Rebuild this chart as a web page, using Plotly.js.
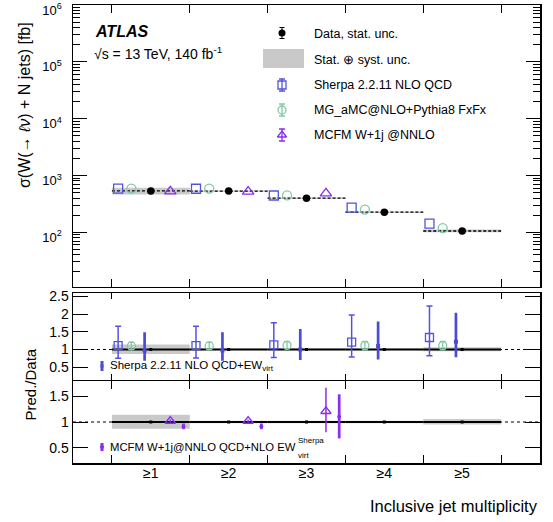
<!DOCTYPE html>
<html><head><meta charset="utf-8">
<script src="https://cdn.plot.ly/plotly-3.0.1.min.js"></script>
<style>html,body{margin:0;padding:0;background:#fff}</style>
</head><body>
<div id="plot" style="width:553px;height:522px"></div>
<script>
// ---- data ----
const categories = ['≥1','≥2','≥3','≥4','≥5'];
const dataXS   = [533, 530, 398, 225, 105];          // fb
const bandLo   = [0.87, 0.975, 0.975, 0.975, 0.95];  // stat+syst band, relative
const bandHi   = [1.14, 1.025, 1.025, 1.025, 1.06];
const sherpaXS = [585, 583, 443, 272, 142];
const mgXS     = [588, 586, 445, 250, 118];
const mcfmXS   = [525, 520, 485];
const sherpaR   = [1.11, 1.11, 1.13, 1.21, 1.34];
const sherpaRLo = [0.75, 0.76, 0.77, 0.79, 0.82];
const sherpaRHi = [1.66, 1.66, 1.76, 1.98, 2.23];
const mgR   = [1.10, 1.10, 1.12, 1.11, 1.11];
const mgRLo = [1.00, 1.00, 1.02, 0.99, 0.99];
const mgRHi = [1.20, 1.20, 1.22, 1.23, 1.23];
const ewR   = [0.97, 0.97, 1.00, 1.10, 1.22];
const ewRLo = [0.68, 0.68, 0.70, 0.72, 0.78];
const ewRHi = [1.49, 1.49, 1.58, 1.79, 2.04];
const mcfmR   = [1.02, 1.02, 1.21];
const mcfmRLo = [0.99, 0.99, 0.80];
const mcfmRHi = [1.05, 1.05, 1.67];
const mcfmEwR   = [0.91, 0.91, 1.10];
const mcfmEwRLo = [0.86, 0.86, 0.68];
const mcfmEwRHi = [0.97, 0.97, 1.54];
const yTickVals = [1e2, 1e3, 1e4, 1e5, 1e6];
const yTickText = ['10<sup>2</sup>','10<sup>3</sup>','10<sup>4</sup>','10<sup>5</sup>','10<sup>6</sup>'];

// ---- style ----
const BLUE = '#5353e0', BLUE2 = '#4b4bd6', GREEN = '#7fcba3', PURPLE = '#8a2cf2', GREY = '#c9c9c9';
const OFF = {sherpa:-0.42, mg:-0.25, ew:-0.08, mcfm:0.25, mcfmEw:0.42};
const FONT = 'Liberation Sans, Arial, sans-serif';

const xc = categories.map((_, i) => i + 1);
const shift = (arr, d) => arr.map(v => v + d);
const sub = (a, b) => a.map((v, i) => v - b[i]);
const W = 553, H = 522, L = 73, R = 13, T = 5, B = 59;
const px = x => (x - L) / (W - L - R);
const py = y => (H - B - y) / (H - T - B);
const boundaries = xc.map(v => v - 0.5).concat([xc.length + 0.5]);

// data dashed segments
const segX = [], segY = [];
xc.forEach((c, i) => { segX.push(c - 0.5, c + 0.5, null); segY.push(dataXS[i], dataXS[i], null); });

const traces = [];
// top panel
traces.push({type:'bar', x:xc, base:dataXS.map((d,i)=>d*bandLo[i]), y:dataXS.map((d,i)=>d*(bandHi[i]-bandLo[i])),
  width:1, marker:{color:GREY, line:{width:0}}, xaxis:'x3', yaxis:'y3', hoverinfo:'skip'});
traces.push({type:'scatter', mode:'lines', x:segX, y:segY, line:{color:'#000', width:1.3, dash:'3px,2px'},
  xaxis:'x3', yaxis:'y3', hoverinfo:'skip'});
traces.push({type:'scatter', mode:'markers', x:shift(xc,OFF.sherpa), y:sherpaXS,
  marker:{symbol:'square-open', size:9, color:BLUE, line:{width:1.3, color:BLUE}}, xaxis:'x3', yaxis:'y3'});
traces.push({type:'scatter', mode:'markers', x:shift(xc,OFF.mg), y:mgXS,
  marker:{symbol:'circle-open', size:9, color:GREEN, line:{width:1.3, color:GREEN}}, xaxis:'x3', yaxis:'y3'});
traces.push({type:'scatter', mode:'markers', x:xc, y:dataXS,
  marker:{symbol:'circle', size:7.5, color:'#000'}, xaxis:'x3', yaxis:'y3'});
traces.push({type:'scatter', mode:'markers', x:shift(xc.slice(0,3),OFF.mcfm), y:mcfmXS,
  marker:{symbol:'triangle-up-open', size:10, color:PURPLE, line:{width:1.3, color:PURPLE}}, xaxis:'x3', yaxis:'y3'});

// ratio panels
function ratioBase(xa, ya) {
  traces.push({type:'bar', x:xc, base:bandLo, y:sub(bandHi, bandLo), width:1,
    marker:{color:GREY, line:{width:0}}, xaxis:xa, yaxis:ya, hoverinfo:'skip'});
  traces.push({type:'scatter', mode:'markers', x:xc, y:xc.map(()=>1),
    error_x:{type:'constant', value:0.5, width:0, thickness:2, color:'#000'},
    marker:{symbol:'square', size:3, color:'#000'}, xaxis:xa, yaxis:ya});
}
function errTrace(xs, v, lo, hi, xa, ya, marker, err) {
  traces.push({type:'scatter', mode:'markers', x:xs, y:v,
    error_y:Object.assign({type:'data', symmetric:false, array:sub(hi, v), arrayminus:sub(v, lo)}, err),
    marker:marker, xaxis:xa, yaxis:ya});
}
ratioBase('x2','y2');
errTrace(shift(xc,OFF.sherpa), sherpaR, sherpaRLo, sherpaRHi, 'x2','y2',
  {symbol:'square-open', size:8, color:BLUE, line:{width:1.3, color:BLUE}}, {color:BLUE, thickness:1.5, width:3});
errTrace(shift(xc,OFF.mg), mgR, mgRLo, mgRHi, 'x2','y2',
  {symbol:'circle-open', size:8, color:GREEN, line:{width:1.3, color:GREEN}}, {color:GREEN, thickness:1.3, width:3});
errTrace(shift(xc,OFF.ew), ewR, ewRLo, ewRHi, 'x2','y2',
  {symbol:'square', size:4, color:BLUE2}, {color:BLUE2, thickness:2.7, width:0});

ratioBase('x','y');
errTrace(shift(xc.slice(0,3),OFF.mcfm), mcfmR, mcfmRLo, mcfmRHi, 'x','y',
  {symbol:'triangle-up-open', size:9, color:PURPLE, line:{width:1.3, color:PURPLE}}, {color:PURPLE, thickness:1.5, width:0});
errTrace(shift(xc.slice(0,3),OFF.mcfmEw), mcfmEwR, mcfmEwRLo, mcfmEwRHi, 'x','y',
  {symbol:'circle', size:4, color:PURPLE}, {color:PURPLE, thickness:2.7, width:0});

// legend glyphs (overlay axes in pixel units)
const lg = (x, y, marker, err) => traces.push({type:'scatter', mode:'markers', x:[x], y:[y], marker:marker,
  error_y: err ? Object.assign({type:'constant'}, err) : undefined, xaxis:'x4', yaxis:'y4', hoverinfo:'skip'});
lg(282, 33, {symbol:'circle', size:7, color:'#000'}, {value:5.5, width:2.5, thickness:1, color:'#000'});
lg(282, 85, {symbol:'square-open', size:8, color:BLUE, line:{width:1.3, color:BLUE}}, {value:6, width:3, thickness:1.3, color:BLUE});
lg(282, 110, {symbol:'circle-open', size:8, color:GREEN, line:{width:1.3, color:GREEN}}, {value:6, width:3, thickness:1.3, color:GREEN});
lg(282, 135, {symbol:'triangle-up-open', size:8, color:PURPLE, line:{width:1.3, color:PURPLE}}, {value:6, width:3, thickness:1.3, color:PURPLE});
lg(102, 366, {symbol:'square', size:3, color:BLUE2}, {value:5, width:0, thickness:3, color:BLUE2});
lg(102, 447, {symbol:'circle', size:4, color:PURPLE}, {value:4, width:0, thickness:3, color:PURPLE});

const axCommon = {showline:true, linecolor:'#000', linewidth:1.5, mirror:'ticks', showgrid:false, zeroline:false,
  tickcolor:'#000', tickwidth:1, tickfont:{family:FONT, size:14, color:'#000'}};
// x axes: ticks at bin boundaries, category labels on an overlaying label axis
const xAx = (len) => Object.assign({}, axCommon, {range:[0, xc.length + 1], tickmode:'array', tickvals:boundaries,
  ticktext:boundaries.map(() => ''), showticklabels:false, ticks:'inside', ticklen:len});
const minorLogVals = [];
for (let e = 1; e < 6; e++) for (let m = 2; m <= 9; m++) minorLogVals.push(m * Math.pow(10, e));

// empty trace so the label axis is drawn
traces.push({type:'scatter', mode:'markers', x:[], y:[], xaxis:'x5', yaxis:'y', hoverinfo:'skip'});

const ann = [];
const txt = (x, y, text, size, opts) => ann.push(Object.assign({xref:'paper', yref:'paper', x:px(x), y:py(y), text:text,
  showarrow:false, xanchor:'left', yanchor:'middle', font:{family:FONT, size:size, color:'#000'}}, opts||{}));
txt(93, 32, '<b><i>ATLAS</i></b>', 16);
txt(92, 53, '√s = 13 TeV, 140 fb<sup>-1</sup>', 14);
txt(312, 34, 'Data, stat. unc.', 12.5);
txt(312, 60, 'Stat. ⊕ syst. unc.', 12.5);
txt(312, 85, 'Sherpa 2.2.11 NLO QCD', 12.5);
txt(312, 110, 'MG_aMC@NLO+Pythia8 FxFx', 12.5);
txt(312, 135, 'MCFM W+1j @NNLO', 12.5);
txt(108, 366, 'Sherpa 2.2.11 NLO QCD+EW<sub>virt</sub>', 11.5);
txt(108, 447, 'MCFM W+1j@NNLO QCD+NLO EW', 11.3);
txt(296, 440, 'Sherpa', 8);
txt(296, 455, 'virt', 8);
txt(25, 105, 'σ(W(→ <i>ℓν</i>) + N jets) [fb]', 16, {xanchor:'center', textangle:-90});
txt(30.5, 385, 'Pred./Data', 15, {xanchor:'center', textangle:-90});
txt(540, 506, 'Inclusive jet multiplicity', 16.5, {xanchor:'right'});

const layout = {
  width:W, height:H, margin:{l:L, r:R, t:T, b:B, pad:0},
  paper_bgcolor:'#fff', plot_bgcolor:'rgba(0,0,0,0)', showlegend:false, barmode:'overlay',
  font:{family:FONT, color:'#000'},
  xaxis: Object.assign(xAx(8), {domain:[0,1], anchor:'y'}),
  xaxis5: {overlaying:'x', anchor:'y', side:'bottom', range:[0, xc.length + 1], tickmode:'array', tickvals:xc,
    ticktext:categories, ticks:'', showline:false, showgrid:false, zeroline:false,
    tickfont:{family:FONT, size:14, color:'#000'}},
  yaxis: Object.assign({}, axCommon, {domain:[0, py(381)], anchor:'x', range:[0.2,1.8], tickvals:[0.5,1,1.5],
    ticktext:['0.5','1','1.5'], ticks:'inside', ticklen:15}),
  xaxis2: Object.assign(xAx(6), {domain:[0,1], anchor:'y2'}),
  yaxis2: Object.assign({}, axCommon, {domain:[py(379.5), py(293)], anchor:'x2', range:[0.15,2.6],
    tickvals:[0.5,1,1.5,2,2.5], ticktext:['0.5','1','1.5','2','2.5'], ticks:'inside', ticklen:15}),
  xaxis3: Object.assign(xAx(8), {domain:[0,1], anchor:'y3'}),
  yaxis3: Object.assign({}, axCommon, {domain:[py(286.7), 1], anchor:'x3', type:'log', range:[1.04, 6.003],
    tickvals:yTickVals, ticktext:yTickText, ticks:'inside', ticklen:14, ticklabelstandoff:7, ticklabelshift:5,
    ticklabeloverflow:'allow', tickfont:{family:FONT, size:13, color:'#000'},
    minor:{tickvals:minorLogVals, ticks:'inside', ticklen:7, tickwidth:1, tickcolor:'#000'}}),
  xaxis4: {domain:[0,1], anchor:'y4', range:[L, W-R], visible:false, fixedrange:true},
  yaxis4: {domain:[0,1], anchor:'x4', range:[H-B, T], visible:false, fixedrange:true},
  shapes: [
    {type:'line', xref:'x2 domain', yref:'y2', x0:0, x1:1, y0:1, y1:1, line:{color:'#000', width:1, dash:'3px,3px'}, layer:'below'},
    {type:'line', xref:'x domain', yref:'y', x0:0, x1:1, y0:1, y1:1, line:{color:'#000', width:1, dash:'3px,3px'}, layer:'below'},
    {type:'rect', xref:'x4', yref:'y4', x0:263, x1:304, y0:49, y1:68, fillcolor:GREY, line:{width:0}}
  ],
  annotations: ann
};
Plotly.newPlot('plot', traces, layout, {staticPlot:true, displayModeBar:false});
</script>
</body></html>
